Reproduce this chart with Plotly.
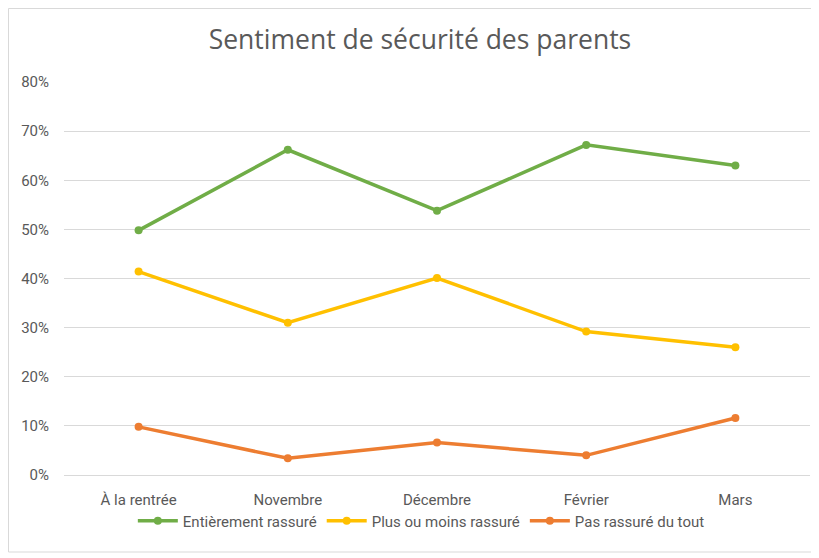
import plotly.graph_objects as go

# Categories (x axis) and series values
mois = ['À la rentrée', 'Novembre', 'Décembre', 'Février', 'Mars']
entierement = [0.498, 0.662, 0.538, 0.672, 0.630]
plus_ou_moins = [0.414, 0.310, 0.401, 0.292, 0.260]
pas_du_tout = [0.098, 0.034, 0.066, 0.040, 0.116]

series = [
    ('Entièrement rassuré', entierement, '#70AD47'),
    ('Plus ou moins rassuré', plus_ou_moins, '#FFC000'),
    ('Pas rassuré du tout', pas_du_tout, '#ED7D31'),
]

font_main = 'Roboto, Arial, sans-serif'
grey_text = '#595959'

# the page has an 8px body margin, so the figure is sized to fit the window
W, H = 811, 550
L, R, T, B = 56, 9, 74, 83
pw, ph = W - L - R, H - T - B

fig = go.Figure()

for name, values, colour in series:
    fig.add_trace(go.Scatter(
        x=mois,
        y=values,
        name=name,
        mode='lines+markers',
        line=dict(color=colour, width=3.5),
        marker=dict(color=colour, size=8),
    ))

fig.update_layout(
    width=W,
    height=H,
    paper_bgcolor='white',
    plot_bgcolor='white',
    margin=dict(l=L, r=R, t=T, b=B, autoexpand=False),
    title=dict(
        text='Sentiment de sécurité des parents',
        x=0.508, xanchor='center',
        y=1 - 32 / H, yanchor='middle',
        font=dict(family='Open Sans, Noto Sans, sans-serif', size=26.5, color=grey_text),
    ),
    font=dict(family=font_main, size=15, color=grey_text),
    legend=dict(
        orientation='h',
        x=0.479, xanchor='center',
        y=-46 / ph, yanchor='middle',
        bgcolor='rgba(0,0,0,0)',
        font=dict(family=font_main, size=15, color=grey_text),
        itemwidth=40,
        tracegroupgap=0,
    ),
    showlegend=True,
)

fig.update_xaxes(
    range=[-0.5, 4.5],
    showgrid=False,
    showline=False,
    zeroline=False,
    ticks='',
    ticklabelstandoff=14,
    tickfont=dict(family=font_main, size=15, color=grey_text),
)

fig.update_yaxes(
    range=[0, 0.8],
    dtick=0.1,
    tickformat='.0%',
    showgrid=True,
    gridcolor='#D9D9D9',
    gridwidth=1,
    zeroline=True,
    zerolinecolor='#D9D9D9',
    zerolinewidth=1,
    showline=False,
    ticks='',
    ticklabelstandoff=14,
    tickfont=dict(family=font_main, size=15, color=grey_text),
)

# light grey frame around the whole chart, like the spreadsheet chart area
fig.add_shape(
    type='rect', xref='paper', yref='paper',
    x0=-(L - 0.5) / pw, x1=1 + (R - 1.5) / pw,
    y0=-(B - 6) / ph, y1=1 + (T - 0.5) / ph,
    line=dict(color='#D9D9D9', width=1),
    layer='below',
)

fig.write_html("out.html")
